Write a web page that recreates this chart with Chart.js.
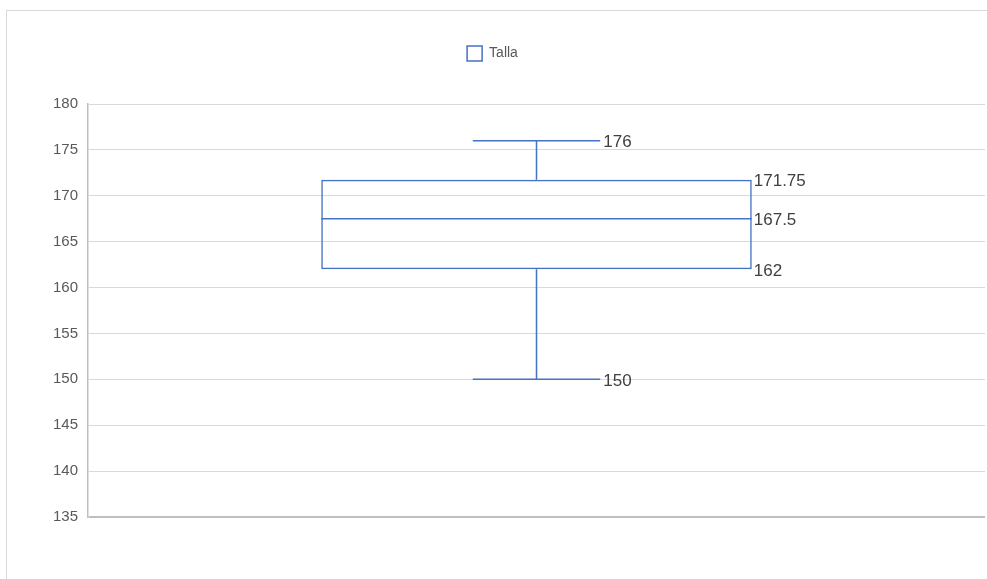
<!DOCTYPE html>
<html>
<head>
<meta charset="utf-8">
<script src="https://cdn.jsdelivr.net/npm/chart.js@4"></script>
<style>
  html, body { margin: 0; padding: 0; background: #ffffff; }
  #wrap { position: relative; width: 987px; height: 579px; }
</style>
</head>
<body>
<div id="wrap"><canvas id="c" width="987" height="579"></canvas></div>
<script>
// ---- data ----
const categories = ['Talla'];
const minValues = [150];
const q1Values = [162];
const medianValues = [167.5];
const q3Values = [171.75];
const maxValues = [176];
const yMin = 135, yMax = 180, yStep = 5;

const BLUE = '#4472C4';

const frame = {
  id: 'frame',
  beforeDraw(chart) {
    const ctx = chart.ctx;
    ctx.save();
    ctx.strokeStyle = '#d9d9d9';
    ctx.lineWidth = 1;
    ctx.strokeRect(6.5, 10.5, 1100, 700);
    ctx.restore();
  }
};

const legendHeight = {
  id: 'legendHeight',
  beforeInit(chart) {
    const lg = chart.legend;
    if (!lg) return;
    const fit = lg.fit;
    lg.fit = function () { fit.call(this); this.height = 67; };
  }
};

const whiskers = {
  id: 'whiskers',
  afterDatasetsDraw(chart) {
    const ctx = chart.ctx;
    const y = chart.scales.y;
    const meta = chart.getDatasetMeta(0);
    ctx.save();
    meta.data.forEach((bar, i) => {
      const cx = bar.x, w = bar.width;
      const left = cx - w / 2, right = cx + w / 2;
      const capHalf = w * 0.148;
      const yMinP = y.getPixelForValue(minValues[i]);
      const yQ1 = y.getPixelForValue(q1Values[i]);
      const yMed = y.getPixelForValue(medianValues[i]);
      const yQ3 = y.getPixelForValue(q3Values[i]);
      const yMaxP = y.getPixelForValue(maxValues[i]);
      ctx.strokeStyle = BLUE;
      ctx.lineWidth = 1.5;
      ctx.beginPath();
      ctx.moveTo(left, yMed); ctx.lineTo(right, yMed);
      ctx.moveTo(cx, yQ3); ctx.lineTo(cx, yMaxP);
      ctx.moveTo(cx, yQ1); ctx.lineTo(cx, yMinP);
      ctx.moveTo(cx - capHalf, yMaxP); ctx.lineTo(cx + capHalf, yMaxP);
      ctx.moveTo(cx - capHalf, yMinP); ctx.lineTo(cx + capHalf, yMinP);
      ctx.stroke();
      ctx.fillStyle = '#404040';
      ctx.font = '17px "Liberation Sans", Arial, sans-serif';
      ctx.textAlign = 'left';
      ctx.textBaseline = 'middle';
      ctx.fillText(String(maxValues[i]), cx + capHalf + 3, yMaxP + 2);
      ctx.fillText(String(minValues[i]), cx + capHalf + 3, yMinP + 2);
      ctx.fillText(String(q3Values[i]), right + 2, yQ3 + 2);
      ctx.fillText(String(medianValues[i]), right + 2, yMed + 2);
      ctx.fillText(String(q1Values[i]), right + 2, yQ1 + 2);
    });
    ctx.restore();
  }
};

new Chart(document.getElementById('c'), {
  type: 'bar',
  data: {
    labels: categories,
    datasets: [{
      label: 'Talla',
      data: categories.map((_, i) => [q1Values[i], q3Values[i]]),
      backgroundColor: 'rgba(0,0,0,0)',
      borderColor: BLUE,
      borderWidth: 1.5,
      borderSkipped: false,
      categoryPercentage: 1,
      barPercentage: 0.48
    }]
  },
  options: {
    responsive: false,
    animation: false,
    layout: { padding: { top: 37, right: 2, bottom: 62, left: 0 } },
    plugins: {
      tooltip: { enabled: false },
      legend: {
        position: 'top',
        labels: {
          color: '#595959',
          font: { family: '"Liberation Sans", Arial, sans-serif', size: 14 },
          boxWidth: 15,
          boxHeight: 15,
          padding: 9
        }
      }
    },
    scales: {
      x: { display: false },
      y: {
        min: yMin,
        max: yMax,
        afterFit(s) { s.width = 88; },
        ticks: {
          stepSize: yStep,
          color: '#595959',
          padding: 10,
          font: { family: '"Liberation Sans", Arial, sans-serif', size: 15 }
        },
        grid: {
          drawTicks: false,
          tickLength: 0,
          color: (c) => (c.tick && c.tick.value === yMin) ? '#bfbfbf' : '#d9d9d9',
          lineWidth: (c) => (c.tick && c.tick.value === yMin) ? 2 : 1
        },
        border: { display: true, color: '#bfbfbf', width: 1.5 }
      }
    }
  },
  plugins: [frame, legendHeight, whiskers]
});
</script>
</body>
</html>
